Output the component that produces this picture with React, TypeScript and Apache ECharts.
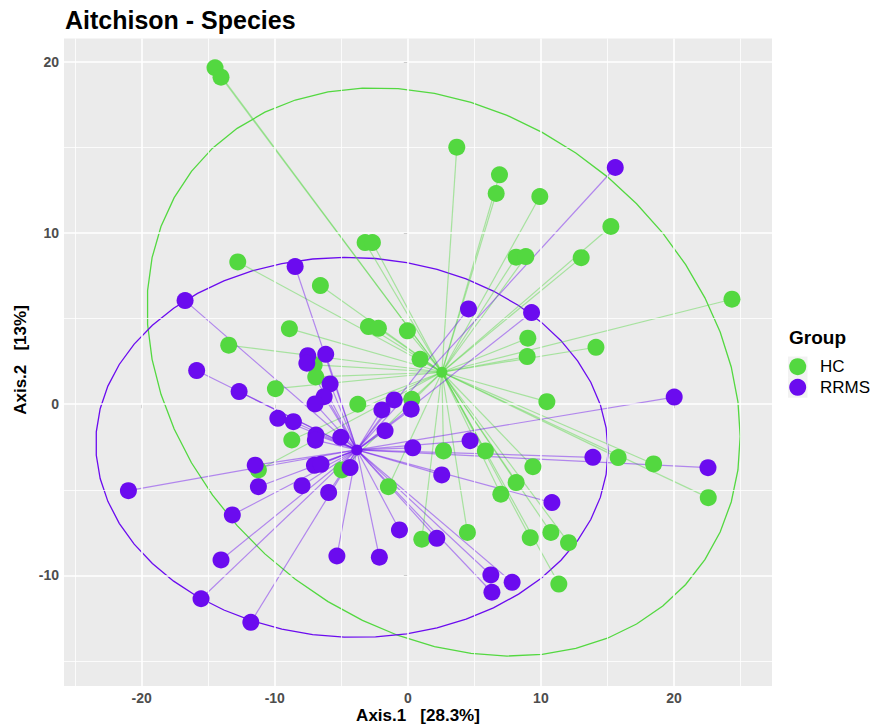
import React, { useEffect, useRef } from "react";
import * as echarts from "echarts";

// Ordination scores (Aitchison distance, species level)
const hcX = [-14.49, -14.04, 3.68, 6.89, 6.64, 9.92, 15.26, 8.14, 8.87, 13.03, 24.36, 9.02, 14.14, 8.97, 10.45, 0.92, -0.03, 0.3, -12.78, -6.57, -8.9, -13.46, -2.96, -2.21, -7.04, -6.92, -9.95, -3.76, -8.72, -11.23, -4.96, -1.46, 1.05, 2.68, 5.83, 9.4, 8.14, 6.99, 15.81, 18.47, 22.58, 4.48, 9.2, 10.75, 12.08, 11.35, -3.21, -2.66];
const hcY = [19.67, 19.12, 15.03, 13.41, 12.32, 12.14, 10.39, 8.6, 8.63, 8.57, 6.14, 3.86, 3.33, 2.79, 0.15, 2.63, 4.29, 0.29, 8.32, 6.94, 4.42, 3.45, 4.54, 4.44, 2.3, 1.6, 0.91, 0.0, -2.09, -3.84, -3.84, -4.82, -7.89, -2.73, -2.73, -3.65, -4.58, -5.26, -3.12, -3.49, -5.46, -7.49, -7.8, -7.49, -8.09, -10.51, 9.45, 9.45];

const rrmsX = [15.59, -8.47, -16.74, 4.56, 9.3, -15.87, -12.68, -7.52, -7.59, -6.17, -5.84, -6.29, -6.97, -9.77, -8.6, -1.95, -1.03, 0.25, -1.71, -6.9, -6.95, -5.04, 0.37, -7.02, -6.52, -4.34, -11.47, -11.23, -7.95, -5.95, -21.0, -13.19, -14.04, -15.54, -11.8, -5.33, -2.14, -0.63, 2.18, 2.55, 4.68, 13.91, 22.56, 10.83, 6.24, 7.84, 6.32, 20.02];
const rrmsY = [13.84, 8.05, 6.06, 5.57, 5.36, 1.97, 0.74, 2.84, 2.4, 2.92, 1.19, 0.44, 0.02, -0.82, -1.02, -0.33, 0.25, -0.29, -1.55, -1.8, -2.1, -1.93, -2.55, -3.57, -3.51, -3.7, -3.56, -4.82, -4.76, -5.16, -5.05, -6.47, -9.1, -11.37, -12.75, -8.87, -8.94, -7.35, -7.84, -4.13, -2.13, -3.1, -3.71, -5.75, -9.98, -10.41, -10.99, 0.42];

// Group centroids (spider hubs)
const hcCentroid = [2.56, 1.87];
const rrmsCentroid = [-3.83, -2.67];

// 95% ellipses: centre x, centre y, radius along x, radius along y, correlation
const hcEllipse = [2.69, 1.89, 22.29, 16.61, -0.227];
const rrmsEllipse = [-4.2, -2.52, 19.25, 11.11, -0.02];

const groups = ["HC", "RRMS"];
const groupColors = ["#53D840", "#6B0BEF"];

const xRange = [-25.84, 27.37];
const yRange = [-16.47, 21.38];
const xMajor = [-20, -10, 0, 10, 20];
const xMinor = [-25, -15, -5, 5, 15, 25];
const yMajor = [-10, 0, 10, 20];
const yMinor = [-15, -5, 5, 15];

const FONT = "'Liberation Sans', Arial, Helvetica, sans-serif";
const ELLIPSE_SEGMENTS = 51;

function spiderData(xs: number[], ys: number[], hub: number[]) {
  return xs.map((x, i) => ({ coords: [[x, ys[i]], hub] }));
}

function ellipseSeries(params: number[], color: string) {
  return {
    type: "custom",
    coordinateSystem: "cartesian2d",
    silent: true,
    z: 3,
    data: [params],
    encode: { x: 0, y: 1 },
    renderItem: (_p: any, api: any) => {
      const cx = api.value(0);
      const cy = api.value(1);
      const rx = api.value(2);
      const ry = api.value(3);
      const rho = api.value(4);
      const s = Math.sqrt(1 - rho * rho);
      const points: number[][] = [];
      for (let i = 0; i <= ELLIPSE_SEGMENTS; i++) {
        const t = (2 * Math.PI * i) / ELLIPSE_SEGMENTS;
        const x = cx + rx * Math.cos(t);
        const y = cy + ry * (rho * Math.cos(t) + s * Math.sin(t));
        points.push(api.coord([x, y]));
      }
      return {
        type: "polyline",
        shape: { points },
        style: { stroke: color, fill: "none", lineWidth: 1.3 },
      };
    },
  };
}

function gridLine(axis: "xAxis" | "yAxis", v: number, width: number) {
  return { [axis]: v, lineStyle: { color: "#FFFFFF", width, type: "solid", opacity: 1 } };
}

export default function App() {
  const ref = useRef<HTMLDivElement>(null);

  useEffect(() => {
    const chart = echarts.init(ref.current!, null, { renderer: "svg" });

    const axisLabel = {
      color: "#4D4D4D",
      fontSize: 14,
      fontWeight: "bold",
      fontFamily: FONT,
      margin: 5,
    };
    const axisTick = { show: true, length: 4, lineStyle: { color: "#333333", width: 1 } };

    const option = {
      animation: false,
      backgroundColor: "#FFFFFF",
      grid: {
        left: 64,
        top: 38.5,
        width: 708,
        height: 647.5,
        show: true,
        backgroundColor: "#EBEBEB",
        borderWidth: 0,
        containLabel: false,
      },
      xAxis: {
        type: "value",
        min: xRange[0],
        max: xRange[1],
        axisLine: { show: false },
        splitLine: { show: false },
        axisTick: { ...axisTick, customValues: xMajor },
        axisLabel: { ...axisLabel, customValues: xMajor },
      },
      yAxis: {
        type: "value",
        min: yRange[0],
        max: yRange[1],
        axisLine: { show: false },
        splitLine: { show: false },
        axisTick: { ...axisTick, customValues: yMajor },
        axisLabel: { ...axisLabel, customValues: yMajor },
      },
      graphic: [
        {
          type: "text",
          x: 65,
          y: 19.5,
          style: {
            text: "Aitchison - Species",
            fontSize: 25,
            fontWeight: "bold",
            fontFamily: FONT,
            fill: "#000000",
            align: "left",
            verticalAlign: "middle",
          },
        },
        {
          type: "text",
          x: 418,
          y: 715,
          style: {
            text: "Axis.1   [28.3%]",
            fontSize: 17,
            fontWeight: "bold",
            fontFamily: FONT,
            fill: "#000000",
            align: "center",
            verticalAlign: "middle",
          },
        },
        {
          type: "text",
          x: 20,
          y: 360,
          rotation: Math.PI / 2,
          style: {
            text: "Axis.2   [13%]",
            fontSize: 17,
            fontWeight: "bold",
            fontFamily: FONT,
            fill: "#000000",
            align: "center",
            verticalAlign: "middle",
          },
        },
        // legend
        {
          type: "text",
          x: 789,
          y: 337,
          style: {
            text: "Group",
            fontSize: 19,
            fontWeight: "bold",
            fontFamily: FONT,
            fill: "#000000",
            align: "left",
            verticalAlign: "middle",
          },
        },
        ...groups.flatMap((g, i) => [
          {
            type: "rect",
            shape: { x: 788, y: 356.5 + i * 20.6, width: 19.5, height: 20.6 },
            style: { fill: "#F2F2F2" },
          },
          {
            type: "circle",
            shape: { cx: 797.7, cy: 366.7 + i * 20.6, r: 8.5 },
            style: { fill: groupColors[i] },
          },
          {
            type: "text",
            x: 820,
            y: 366.7 + i * 20.6,
            style: {
              text: g,
              fontSize: 17,
              fontFamily: FONT,
              fill: "#000000",
              align: "left",
              verticalAlign: "middle",
            },
          },
        ]),
      ],
      series: [
        {
          type: "scatter",
          data: [],
          z: 1,
          silent: true,
          markLine: {
            silent: true,
            symbol: ["none", "none"],
            label: { show: false },
            emphasis: { disabled: true },
            data: [
              ...xMinor.map((v) => gridLine("xAxis", v, 0.8)),
              ...yMinor.map((v) => gridLine("yAxis", v, 0.8)),
              ...xMajor.map((v) => gridLine("xAxis", v, 1.6)),
              ...yMajor.map((v) => gridLine("yAxis", v, 1.6)),
            ],
          },
        },
        ellipseSeries(hcEllipse, groupColors[0]),
        ellipseSeries(rrmsEllipse, groupColors[1]),
        {
          type: "lines",
          coordinateSystem: "cartesian2d",
          silent: true,
          z: 4,
          data: spiderData(hcX, hcY, hcCentroid),
          lineStyle: { color: groupColors[0], width: 1.2, opacity: 0.45 },
        },
        {
          type: "lines",
          coordinateSystem: "cartesian2d",
          silent: true,
          z: 4,
          data: spiderData(rrmsX, rrmsY, rrmsCentroid),
          lineStyle: { color: groupColors[1], width: 1.2, opacity: 0.45 },
        },
        {
          name: "HC",
          type: "scatter",
          z: 5,
          symbolSize: 17,
          data: hcX.map((x, i) => [x, hcY[i]]),
          itemStyle: { color: groupColors[0], opacity: 1 },
        },
        {
          name: "RRMS",
          type: "scatter",
          z: 6,
          symbolSize: 17,
          data: rrmsX.map((x, i) => [x, rrmsY[i]]),
          itemStyle: { color: groupColors[1], opacity: 1 },
        },
        {
          type: "scatter",
          z: 7,
          symbolSize: 11,
          data: [hcCentroid],
          itemStyle: { color: groupColors[0], opacity: 1 },
        },
        {
          type: "scatter",
          z: 7,
          symbolSize: 11,
          data: [rrmsCentroid],
          itemStyle: { color: groupColors[1], opacity: 1 },
        },
      ],
    };

    chart.setOption(option as any);
    return () => chart.dispose();
  }, []);

  return (
    <>
      <style>{"#root svg text { white-space: pre; }"}</style>
      <div
        ref={ref}
        style={{ position: "absolute", left: 0, top: 0, width: 879, height: 725, background: "#FFFFFF" }}
      />
    </>
  );
}
